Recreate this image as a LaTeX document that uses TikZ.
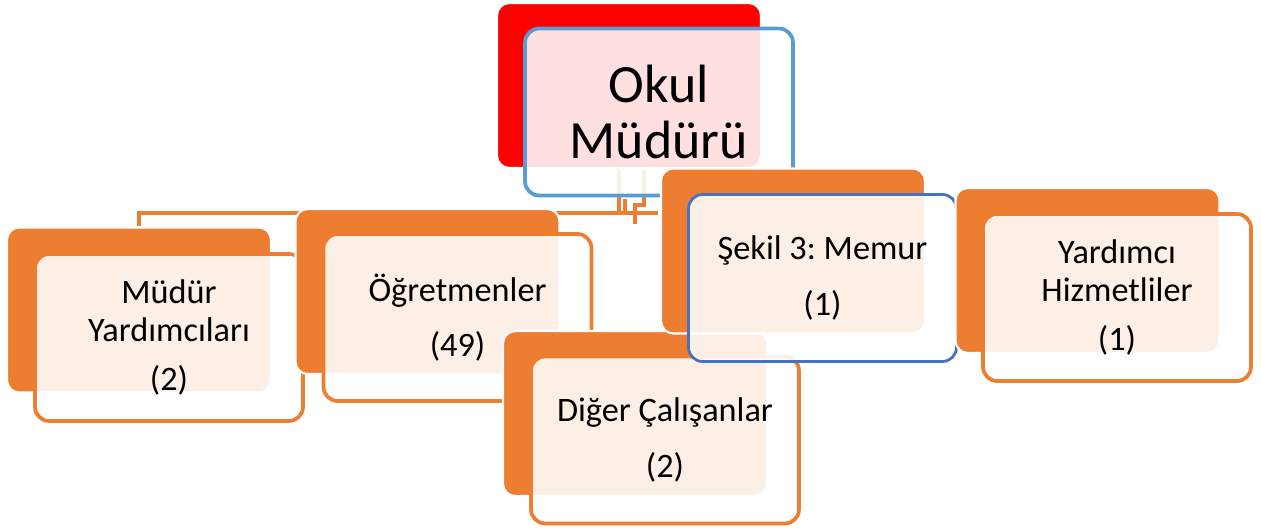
\documentclass[tikz,border=0pt]{standalone}
\usepackage{fontspec}
\setmainfont{Carlito}
\usepackage{xcolor}
\usetikzlibrary{positioning,calc,backgrounds}
\definecolor{orgorange}{RGB}{237,125,49}
\definecolor{orgred}{RGB}{255,0,0}
\definecolor{lineblue}{RGB}{91,155,213}
\definecolor{frameblue}{RGB}{68,114,196}
\tikzset{
  backbox/.style={draw=white, fill=orgorange, rounded corners=7pt, inner sep=0pt,
    minimum width=5.28cm, minimum height=3.3cm, line width=1.2pt},
  topback/.style={backbox, fill=orgred},
  frontbox/.style={draw=orgorange, fill=white, fill opacity=0.88, text opacity=1,
    rounded corners=8pt, align=center, inner sep=0pt, text=black,
    minimum width=5.36cm, minimum height=3.34cm, line width=2.1pt,
    font=\fontsize{19.5}{21.4}\selectfont},
  topfront/.style={frontbox, draw=lineblue, font=\fontsize{30.7}{31.5}\selectfont},
  memfront/.style={frontbox, draw=frameblue, line width=1.6pt},
  link/.style={draw=orgorange, line width=2.4pt},
}
\begin{document}
\begin{tikzpicture}[x=0.02cm, y=-0.02cm]
  \useasboundingbox (0,0) rectangle (1261,530);
  \node[topback] (okulb) at (629,85.5) {};
  \node[topfront] (okul) at (659,112) {Okul\\Müdürü};
  % children
  \node[backbox] (myb) at (139,310) {};
  \node[frontbox] (my) at (169,337.5) {Müdür\\Yardımcıları\\[0.22cm](2)};
  \node[backbox] (ogrb) at (427.5,291.5) {};
  \node[frontbox] (ogr) at (457.5,317.5) {Öğretmenler\\[0.35cm](49)};
  \node[backbox] (digb) at (635,413.5) {};
  \node[frontbox] (dig) at (665,440) {Diğer Çalışanlar\\[0.35cm](2)};
  \node[backbox] (memb) at (793,251) {};
  \node[memfront] (mem) at (822.5,278) {Şekil 3:\ Memur\\[0.35cm](1)};
  \node[backbox] (yhb) at (1087.5,270.5) {};
  \node[frontbox] (yh) at (1117,297.5) {Yardımcı\\Hizmetliler\\[0.22cm](1)};
  % connectors, behind the boxes
  \coordinate (busend) at (658,213);
  \begin{scope}[on background layer]
    \draw[link] (myb.north) |- (busend);
    \draw[link] ($(okulb.south)+(-10,0)$) -- ++(0,46);
    \draw[link] ($(okulb.south)+(-4,30)$) -- ++(0,16);
    \draw[link] ($(okulb.south)+(15,0)$) -- ++(0,36) -| ++(-9,19);
  \end{scope}
\end{tikzpicture}
\end{document}
